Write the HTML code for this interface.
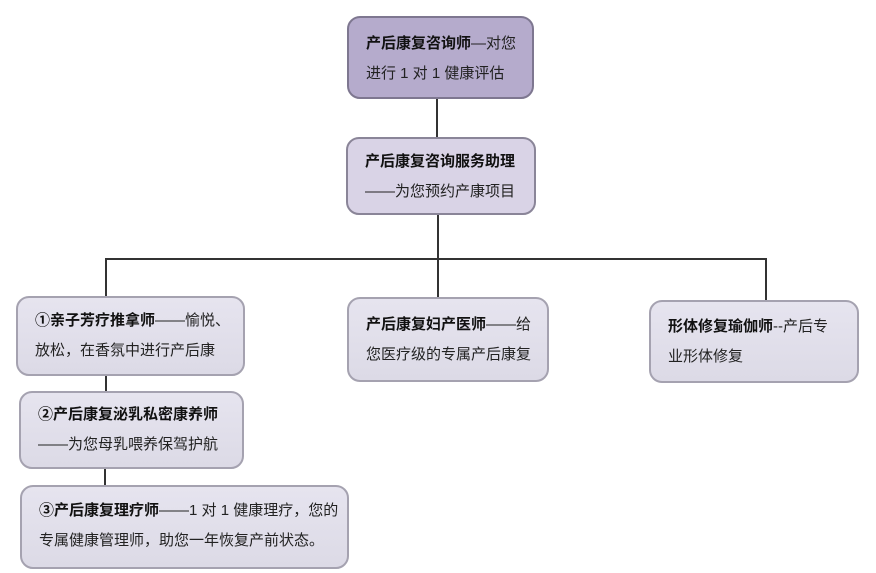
<!DOCTYPE html>
<html><head><meta charset="utf-8"><style>
body{margin:0;width:876px;height:573px;background:#fff;position:relative;overflow:hidden;font-family:"Liberation Sans","Noto Sans CJK SC",sans-serif;}
.b{position:absolute;box-sizing:border-box;border:2px solid #a5a2b0;border-radius:13px;background:linear-gradient(#e6e4ef,#dcdae6);font-size:15px;color:#222;line-height:30px;padding:9px 0 0 17px;white-space:nowrap;}
.b b{font-weight:bold;color:#111}
.l{position:absolute;background:#333;}
</style></head><body>
<div class="l" style="left:436px;top:98px;width:1.5px;height:40px"></div>
<div class="l" style="left:437px;top:214px;width:1.5px;height:84px"></div>
<div class="l" style="left:105px;top:258px;width:661px;height:1.5px"></div>
<div class="l" style="left:105px;top:258px;width:1.5px;height:39px"></div>
<div class="l" style="left:765px;top:258px;width:1.5px;height:43px"></div>
<div class="l" style="left:105px;top:375px;width:1.5px;height:17px"></div>
<div class="l" style="left:104px;top:468px;width:1.5px;height:18px"></div>

<div class="b" style="left:347px;top:16px;width:187px;height:83px;background:#b5abcc;border-color:#7e7790;padding-top:11px">
<b>产后康复咨询师</b>—对您<br>进行 1 对 1 健康评估</div>
<div class="b" style="left:346px;top:137px;width:190px;height:78px;background:#d9d3e6;border-color:#8a8598;padding-top:8px">
<b>产后康复咨询服务助理</b><br>——为您预约产康项目</div>

<div class="b" style="left:16px;top:296px;width:229px;height:80px;padding-top:8px">
<b>①亲子芳疗推拿师</b>——愉悦、<br>放松，在香氛中进行产后康</div>
<div class="b" style="left:19px;top:391px;width:225px;height:78px;padding-top:7px">
<b>②产后康复泌乳私密康养师</b><br>——为您母乳喂养保驾护航</div>
<div class="b" style="left:20px;top:485px;width:329px;height:84px;padding-top:9px">
<b>③产后康复理疗师</b>——1 对 1 健康理疗，您的<br>专属健康管理师，助您一年恢复产前状态。</div>

<div class="b" style="left:347px;top:297px;width:202px;height:85px;padding-top:11px">
<b>产后康复妇产医师</b>——给<br>您医疗级的专属产后康复</div>
<div class="b" style="left:649px;top:300px;width:210px;height:83px;padding-top:10px">
<b>形体修复瑜伽师</b>--产后专<br>业形体修复</div>
</body></html>
